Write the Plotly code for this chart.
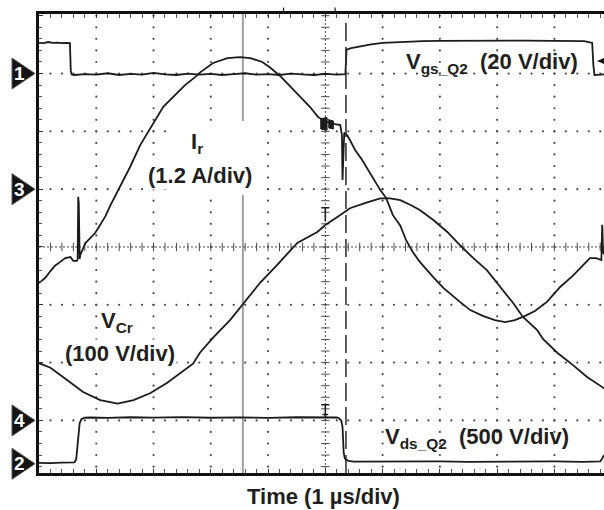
import numpy as np
import plotly.graph_objects as go

# ---------------------------------------------------------------------------
# Scope settings: 1 us/div horizontally, 8 vertical divisions.
# Each channel: volts (or amps) per division and ground level (div from centre)
# ---------------------------------------------------------------------------
CH1_SCALE, CH1_GND = 20.0, 3.0      # Vgs_Q2  [V]
CH2_SCALE, CH2_GND = 500.0, -3.75   # Vds_Q2  [V]
CH3_SCALE, CH3_GND = 1.2, 1.0       # Ir      [A]
CH4_SCALE, CH4_GND = 100.0, -3.0    # VCr     [V]

X_RANGE = [0.0, 9.866]              # us shown on screen
Y_DIV = [-3.91, 4.03]               # visible vertical span in divisions

# cursor positions (us)
CURSOR_SOLID = 3.56
CURSOR_DASHED = 5.36

# ---------------------------------------------------------------------------
# Captured waveforms
# ---------------------------------------------------------------------------
vgs_t = [0.00, 0.08, 0.16, 0.24, 0.32, 0.40, 0.48, 0.54, 0.555, 0.57, 0.62,
         0.80, 1.00, 1.20, 1.40, 1.60, 1.80, 2.00, 2.20, 2.40, 2.60, 2.80,
         3.00, 3.20, 3.40, 3.60, 3.80, 4.00, 4.20, 4.40, 4.60, 4.80, 5.00,
         5.20, 5.35, 5.37, 5.45, 5.60, 5.80, 6.00, 6.30, 6.70, 7.00, 7.50,
         8.00, 8.50, 9.00, 9.40, 9.52, 9.60, 9.66, 9.68, 9.70, 9.80, 9.866]
vgs_v = [10.6, 10.5, 10.9, 10.6, 10.7, 10.5, 10.6, 10.5, 1.0, -0.3, -0.5,
         -0.2, -0.4, 0.1, -0.5, -0.1, -0.4, 0.2, -0.3, -0.5, 0.0, -0.4,
         -0.1, -0.5, -0.2, 0.1, -0.4, -0.2, -0.5, 0.0, -0.3, -0.5, -0.1,
         -0.4, -0.2, 8.3, 8.8, 9.4, 10.1, 10.6, 10.9, 11.2, 11.3, 11.4,
         11.3, 11.4, 11.3, 11.4, 11.2, 10.9, 10.6, 3.0, -0.5, -0.4, -0.3]

vds_t = [0.00, 0.20, 0.40, 0.55, 0.62, 0.65, 0.67, 0.69, 0.71, 0.74, 0.80,
         0.90, 1.20, 1.60, 2.00, 2.50, 3.00, 3.50, 4.00, 4.50, 5.00, 5.20,
         5.25, 5.28, 5.30, 5.31, 5.32, 5.34, 5.40, 5.50, 6.00, 6.50, 7.00,
         7.50, 8.00, 8.50, 9.00, 9.50, 9.80, 9.83, 9.866]
vds_v = [8, 5, 10, 8, 12, 40, 150, 270, 350, 385, 398,
         400, 396, 402, 399, 403, 398, 401, 397, 402, 399, 400,
         390, 370, 320, 200, 100, 45, 25, 18, 20, 16, 21,
         17, 20, 18, 21, 17, 20, 40, 75]

ir_t = [0.00, 0.11, 0.20, 0.28, 0.37, 0.46, 0.55, 0.60, 0.66, 0.675, 0.685,
        0.695, 0.71, 0.72, 0.81, 0.90, 0.98, 1.07, 1.16, 1.24, 1.33, 1.42,
        1.51, 1.59, 1.77, 1.98, 2.17, 2.34, 2.55, 2.73, 2.82, 3.04, 3.29,
        3.51, 3.69, 3.90, 4.04, 4.21, 4.33, 4.56, 4.73, 4.87, 5.00, 5.17,
        5.26, 5.29, 5.30, 5.33, 5.38, 5.43, 5.52, 5.64, 5.75, 5.87, 5.96,
        6.06, 6.18, 6.31, 6.41, 6.53, 6.65, 6.88, 7.06, 7.35, 7.53, 7.75,
        7.96, 8.14, 8.31, 8.49, 8.66, 8.87, 9.10, 9.32, 9.50, 9.62, 9.73,
        9.80, 9.82, 9.835, 9.85, 9.866]
ir_a = [-1.95, -1.84, -1.70, -1.59, -1.51, -1.43, -1.41, -1.49, -1.49, -1.45, -0.16,
        -0.30, -1.45, -1.37, -1.12, -1.01, -0.91, -0.74, -0.56, -0.35, -0.14, 0.07,
        0.29, 0.46, 0.92, 1.33, 1.71, 1.91, 2.16, 2.33, 2.43, 2.62, 2.72,
        2.74, 2.72, 2.64, 2.52, 2.35, 2.20, 1.91, 1.71, 1.50, 1.40, 1.35,
        1.33, 1.12, 0.19, 1.17, 1.12, 1.02, 0.81, 0.61, 0.40, 0.15, -0.02,
        -0.18, -0.54, -0.76, -1.06, -1.31, -1.51, -1.82, -2.05, -2.34, -2.51, -2.63,
        -2.72, -2.76, -2.72, -2.63, -2.53, -2.34, -2.03, -1.80, -1.58, -1.43, -1.43,
        -1.47, -1.47, -0.74, -1.30, -1.35]

vcr_t = [0.00, 0.20, 0.49, 0.77, 1.07, 1.37, 1.65, 1.94, 2.24, 2.47, 2.69,
         2.81, 3.04, 3.34, 3.57, 3.86, 4.16, 4.51, 4.86, 5.00, 5.21, 5.43,
         5.73, 5.96, 6.13, 6.31, 6.48, 6.65, 6.88, 7.13, 7.35, 7.58, 7.82,
         8.05, 8.28, 8.45, 8.70, 8.80, 9.05, 9.32, 9.57, 9.83, 9.866]
vcr_v = [99, 91, 70, 49, 35, 29, 35, 47, 65, 82, 98,
         117, 143, 174, 203, 238, 269, 307, 326, 338, 352, 367,
         377, 384, 384, 381, 373, 364, 347, 326, 303, 281, 260,
         231, 203, 179, 156, 141, 117, 96, 75, 58, 55]

# channel ground markers: label and ground level (div)
marker_labels = ["1", "3", "4", "2"]
marker_levels = [CH1_GND, CH3_GND, CH4_GND, CH2_GND]

INK = "#1b1b1b"
GRID = "#4a4a4a"
FONT = "Liberation Sans, Arial, sans-serif"


def yrange(scale, gnd):
    return [(Y_DIV[0] - gnd) * scale, (Y_DIV[1] - gnd) * scale]


def ypaper(div):
    return (div - Y_DIV[0]) / (Y_DIV[1] - Y_DIV[0])


fig = go.Figure()

# ---- graticule dots -------------------------------------------------------
gx, gy = [], []
for xv in range(1, 10):
    if xv == 5:
        continue
    for yv in np.arange(-3.8, 4.01, 0.2):
        gx.append(xv); gy.append(yv)
for yv in range(-3, 4):
    if yv == 0:
        continue
    for xv in np.arange(0.2, 9.81, 0.2):
        gx.append(xv); gy.append(yv)
fig.add_trace(go.Scatter(x=gx, y=gy, mode="markers", hoverinfo="skip",
                         marker=dict(size=2.2, color=GRID), showlegend=False))

# centre crosshair: fine dotted lines with minor tick marks
fig.add_trace(go.Scatter(x=X_RANGE, y=[0, 0], mode="lines", hoverinfo="skip",
                         line=dict(color=GRID, width=1, dash="2px,2px"), showlegend=False))
fig.add_trace(go.Scatter(x=[5, 5], y=Y_DIV, mode="lines", hoverinfo="skip",
                         line=dict(color=GRID, width=1, dash="2px,2px"), showlegend=False))
hx = np.arange(0.2, 9.81, 0.2)
fig.add_trace(go.Scatter(x=hx, y=np.zeros_like(hx), mode="markers", hoverinfo="skip",
                         marker=dict(symbol="line-ns", size=6, line=dict(width=1, color=GRID)),
                         showlegend=False))
vy = np.arange(-3.8, 4.01, 0.2)
fig.add_trace(go.Scatter(x=np.full_like(vy, 5.0), y=vy, mode="markers", hoverinfo="skip",
                         marker=dict(symbol="line-ew", size=6, line=dict(width=1, color=GRID)),
                         showlegend=False))

# ---- waveforms --------------------------------------------------------------
wave = dict(color=INK, width=1.8)
fig.add_trace(go.Scatter(x=vgs_t, y=vgs_v, yaxis="y2", mode="lines", line=wave,
                         name="Vgs_Q2", showlegend=False))
fig.add_trace(go.Scatter(x=vds_t, y=vds_v, yaxis="y3", mode="lines", line=wave,
                         name="Vds_Q2", showlegend=False))
fig.add_trace(go.Scatter(x=ir_t, y=ir_a, yaxis="y4", mode="lines", line=wave,
                         name="Ir", showlegend=False))
fig.add_trace(go.Scatter(x=vcr_t, y=vcr_v, yaxis="y5", mode="lines", line=wave,
                         name="VCr", showlegend=False))

shapes = []
# cursors
shapes.append(dict(type="line", xref="x", yref="paper", x0=CURSOR_SOLID, x1=CURSOR_SOLID,
                   y0=0, y1=1, line=dict(color="#a0a0a0", width=2), layer="below"))
shapes.append(dict(type="line", xref="x", yref="paper", x0=CURSOR_DASHED, x1=CURSOR_DASHED,
                   y0=0, y1=0.99, line=dict(color="#2a2a2a", width=1.5, dash="18px,6px")))
# trigger marks above the top edge
for tm in (4.27, 5.17):
    shapes.append(dict(type="line", xref="x", yref="paper", x0=tm, x1=tm, y0=1.0, y1=1.014,
                       line=dict(color=INK, width=1.2)))
# white label backing for the current label
shapes.append(dict(type="rect", xref="x", yref="y", x0=2.33, x1=3.90, y0=0.90, y1=2.18,
                   fillcolor="white", line=dict(width=0), layer="above"))
# measurement markers on the traces at the screen centre
shapes.append(dict(type="path", xref="x", yref="y",
                   path="M 4.92,2.04 L 4.92,2.22 L 5.03,2.24 L 5.03,2.02 Z M 5.06,2.06 L 5.06,2.20 L 5.14,2.18 L 5.14,2.04 Z",
                   fillcolor=INK, line=dict(color=INK, width=1)))
shapes.append(dict(type="path", xref="x", yref="y",
                   path="M 4.93,0.68 L 5.07,0.68 M 5.0,0.68 L 5.0,0.44",
                   line=dict(color=INK, width=1.5)))
shapes.append(dict(type="path", xref="x", yref="y",
                   path="M 4.93,-2.73 L 5.07,-2.73 M 5.0,-2.73 L 5.0,-2.96 M 4.95,-2.90 L 5.05,-2.90",
                   line=dict(color=INK, width=1.5)))

# channel ground markers on the left edge
half_h = 15.5 / 459
x_left, x_tip = (12 - 39) / 565, (35 - 39) / 565
annotations = []
for lab, lvl in zip(marker_labels, marker_levels):
    yc = ypaper(lvl)
    shapes.append(dict(type="path", xref="paper", yref="paper",
                       path=f"M {x_left},{yc - half_h} L {x_left},{yc + half_h} L {x_tip},{yc} Z",
                       fillcolor="#141414", line=dict(color="#555", width=1)))
    annotations.append(dict(xref="paper", yref="paper", x=(19.5 - 39) / 565, y=yc,
                            text=f"<b>{lab}</b>", showarrow=False,
                            font=dict(family=FONT, size=19, color="white"),
                            xanchor="center", yanchor="middle"))
# trigger-level marker at the right edge
yt = (473 - 61) / 459
shapes.append(dict(type="path", xref="paper", yref="paper",
                   path=f"M 0.9876,{yt} L 1.02,{yt + 0.017} L 1.02,{yt - 0.017} Z",
                   fillcolor="#141414", line=dict(width=0)))

lab_font = dict(family=FONT, size=22, color="#231f20", weight="bold")
sp = "\u00a0\u00a0"
annotations += [
    dict(x=6.365, y=3.18, xref="x", yref="y", text=f"V<sub>gs_Q2</sub>{sp}(20 V/div)",
         showarrow=False, xanchor="left", yanchor="middle", font=lab_font),
    dict(x=6.01, y=-3.30, xref="x", yref="y", text=f"V<sub>ds_Q2</sub>{sp}(500 V/div)",
         showarrow=False, xanchor="left", yanchor="middle", font=lab_font),
    dict(x=2.76, y=1.80, xref="x", yref="y", text="I<sub>r</sub>",
         showarrow=False, xanchor="center", yanchor="middle", font=lab_font),
    dict(x=2.815, y=1.228, xref="x", yref="y", text="(1.2 A/div)", bgcolor="white",
         borderpad=1, showarrow=False, xanchor="center", yanchor="middle", font=lab_font),
    dict(x=1.37, y=-1.30, xref="x", yref="y", text="V<sub>Cr</sub>", bgcolor="white",
         borderpad=1, showarrow=False, xanchor="center", yanchor="middle", font=lab_font),
    dict(x=1.42, y=-1.85, xref="x", yref="y", text="(100 V/div)", bgcolor="white",
         borderpad=1, showarrow=False, xanchor="center", yanchor="middle", font=lab_font),
    dict(x=0.504, y=-0.051, xref="paper", yref="paper", text="Time (1 \u00b5s/div)",
         showarrow=False, xanchor="center", yanchor="middle", font=lab_font),
]

axis_common = dict(showgrid=False, zeroline=False, showticklabels=False,
                   showline=True, linewidth=3, linecolor="#111",
                   ticks="inside", ticklen=4, tickwidth=1, tickcolor="#333",
                   minor=dict(ticks="inside", ticklen=3, tickwidth=1, tickcolor="#555", dtick=0.2),
                   fixedrange=True)

hidden = dict(overlaying="y", visible=False, fixedrange=True)

fig.update_layout(
    width=604, height=510,
    margin=dict(l=39, r=0, t=14, b=37, autoexpand=False),
    paper_bgcolor="white", plot_bgcolor="white",
    xaxis=dict(range=X_RANGE, dtick=1, tick0=0, mirror="allticks", **axis_common),
    yaxis=dict(range=Y_DIV, dtick=1, tick0=0, mirror=False, **axis_common),
    yaxis2=dict(range=yrange(CH1_SCALE, CH1_GND), **hidden),
    yaxis3=dict(range=yrange(CH2_SCALE, CH2_GND), **hidden),
    yaxis4=dict(range=yrange(CH3_SCALE, CH3_GND), **hidden),
    yaxis5=dict(range=yrange(CH4_SCALE, CH4_GND), **hidden),
    shapes=shapes,
    annotations=annotations,
    showlegend=False,
)

fig.write_html("out.html", config={"displayModeBar": False, "staticPlot": True})
